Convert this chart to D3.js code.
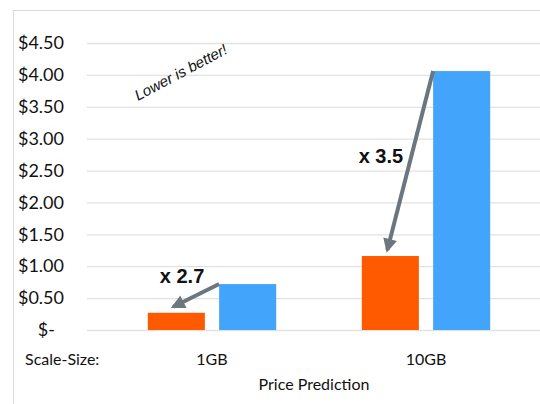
<!DOCTYPE html>
<html>
<head>
<meta charset="utf-8">
<script src="https://cdn.jsdelivr.net/npm/d3@7"></script>
<style>
  body { margin: 0; background: #fff; }
  text { font-family: Lato, "Open Sans", sans-serif; fill: #111; }
  .tick line, .domain { display: none; }
</style>
</head>
<body>
<div id="container"></div>
<script>
// Chart data
const categories = ["1GB", "10GB"];
const seriesNames = ["new", "old"];
const newPrice = [0.27, 1.16];
const oldPrice = [0.72, 4.06];
const ratioLabels = ["x 2.7", "x 3.5"];
const yTicks = [0, 0.5, 1, 1.5, 2, 2.5, 3, 3.5, 4, 4.5];

const colors = { new: "#ff5a00", old: "#42a5fb" };

const width = 540, height = 404;

const svg = d3.select("#container").append("svg")
    .attr("width", width)
    .attr("height", height);

// light chart frame (runs off the right / bottom edge)
svg.append("rect")
    .attr("x", 13.5).attr("y", 10.5)
    .attr("width", 600).attr("height", 500)
    .attr("fill", "none")
    .attr("stroke", "#d9d9d9");

// Scales
const y = d3.scaleLinear().domain([0, 4.5]).range([330, 43]);

const x = d3.scaleBand()
    .domain(categories)
    .range([105, 533])
    .paddingInner(0.4)
    .paddingOuter(0.2);

const xs = d3.scaleBand()
    .domain(seriesNames)
    .range([0, x.bandwidth()])
    .paddingInner(0.2);

// Gridlines
svg.append("g")
    .selectAll("line")
    .data(yTicks)
    .enter().append("line")
    .attr("x1", 87).attr("x2", 540)
    .attr("y1", d => y(d) + 0.5).attr("y2", d => y(d) + 0.5)
    .attr("stroke", "#e2e2e2")
    .attr("stroke-width", 1.3);

// Y axis labels
const yAxis = svg.append("g")
    .attr("transform", "translate(64,0)")
    .call(d3.axisLeft(y).tickValues(yTicks).tickSize(0).tickPadding(0)
        .tickFormat(d => d === 0 ? "$-" : "$" + d.toFixed(2)));
yAxis.selectAll("text")
    .style("font-family", "Lato, sans-serif")
    .style("font-size", "18px")
    .attr("fill", "#000")
    .attr("dx", d => d === 0 ? -9 : 0);

// Bars
const rows = categories.map((c, i) => ({ cat: c, new: newPrice[i], old: oldPrice[i] }));

const groups = svg.selectAll(".group")
    .data(rows)
    .enter().append("g")
    .attr("class", "group")
    .attr("transform", d => `translate(${x(d.cat)},0)`);

groups.selectAll("rect")
    .data(d => seriesNames.map(s => ({ key: s, value: d[s] })))
    .enter().append("rect")
    .attr("x", d => xs(d.key))
    .attr("y", d => y(d.value))
    .attr("width", xs.bandwidth())
    .attr("height", d => y(0) - y(d.value))
    .attr("fill", d => colors[d.key]);

// Category labels
svg.selectAll(".cat")
    .data(categories)
    .enter().append("text")
    .attr("x", d => x(d) + x.bandwidth() / 2)
    .attr("y", 365)
    .attr("text-anchor", "middle")
    .style("font-size", "16px")
    .text(d => d);

svg.append("text")
    .attr("x", 25).attr("y", 365)
    .style("font-size", "16px")
    .text("Scale-Size:");

svg.append("text")
    .attr("x", 314).attr("y", 390)
    .attr("text-anchor", "middle")
    .style("font-size", "16px")
    .text("Price Prediction");

// Arrow marker
svg.append("defs").append("marker")
    .attr("id", "head")
    .attr("viewBox", "0 0 10 10")
    .attr("refX", 8).attr("refY", 5)
    .attr("markerWidth", 16).attr("markerHeight", 14)
    .attr("markerUnits", "userSpaceOnUse")
    .attr("orient", "auto")
    .append("path")
    .attr("d", "M0,0 L10,5 L0,10 Z")
    .attr("fill", "#6b767e");

// Arrows from the old price down to the new price
rows.forEach((d, i) => {
    const x0 = x(d.cat) + xs("old");
    const y0 = y(d.old);
    const x1 = x(d.cat) + xs("new") + xs.bandwidth() / 2 - 3;
    const y1 = y(d.new) - 6;
    svg.append("line")
        .attr("x1", x0).attr("y1", y0)
        .attr("x2", x1).attr("y2", y1)
        .attr("stroke", "#6b767e")
        .attr("stroke-width", 4)
        .attr("marker-end", "url(#head)");
});

// Ratio labels
svg.append("text")
    .attr("x", x("1GB") + xs("new") + 12).attr("y", 283)
    .style("font-family", "'Liberation Sans', Arial, sans-serif")
    .style("font-size", "20px").style("font-weight", "bold")
    .text(ratioLabels[0]);

svg.append("text")
    .attr("x", x("10GB") + xs("old") - 30).attr("y", 163)
    .attr("text-anchor", "end")
    .style("font-family", "'Liberation Sans', Arial, sans-serif")
    .style("font-size", "20px").style("font-weight", "bold")
    .text(ratioLabels[1]);

// Note
svg.append("text")
    .attr("transform", "translate(138,101) rotate(-28)")
    .style("font-family", "'Liberation Sans', Arial, sans-serif")
    .style("font-size", "15px").style("font-style", "italic")
    .text("Lower is better!");
</script>
</body>
</html>
